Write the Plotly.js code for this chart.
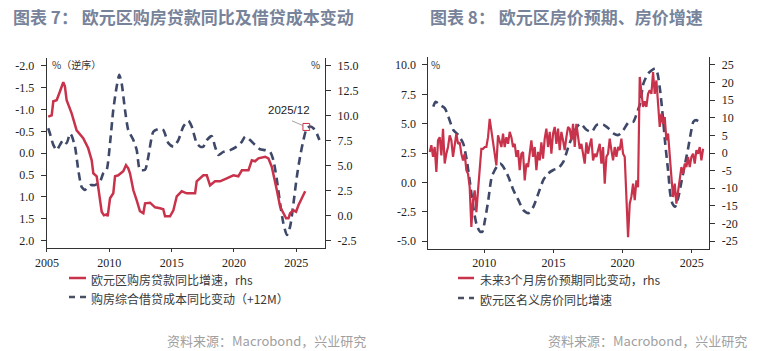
<!DOCTYPE html>
<html><head><meta charset="utf-8">
<script src="https://cdn.plot.ly/plotly-3.0.1.min.js"></script>
<style>html,body{margin:0;padding:0;background:#fff;} #chart{width:770px;height:351px;}</style>
</head><body><div id="chart"></div>
<script>
// ---------- Chart 7 data ----------
const mortgageYears = [2005.10,2005.38,2005.51,2005.78,2005.99,2006.31,2006.44,2006.58,2006.98,2007.38,
2007.91,2008.31,2008.59,2008.72,2008.99,2009.20,2009.39,2009.57,2009.79,2009.87,
2010.06,2010.32,2010.46,2010.72,2011.12,2011.34,2011.52,2011.66,2011.93,2012.20,
2012.46,2012.73,2012.87,2013.27,2013.67,2014.07,2014.33,2014.47,2014.87,2015.14,
2015.41,2015.81,2016.21,2016.48,2016.88,2017.01,2017.28,2017.54,2017.82,2018.08,
2018.48,2018.88,2019.42,2019.95,2020.35,2020.63,2021.16,2021.43,2021.69,2021.96,
2022.50,2022.76,2023.03,2023.30,2023.44,2023.70,2023.96,2024.18,2024.37,2024.50,
2024.77,2024.98,2025.17,2025.44,2025.71];
const mortgageGrowth = [9.86,10.0,11.4,11.5,12.2,13.3,12.9,11.5,10.2,8.5,
7.7,6.7,5.5,4.2,3.9,1.9,0.36,0.0,0.1,-0.1,
1.7,2.2,3.9,4.0,4.4,5.0,4.7,4.2,2.5,1.5,
0.4,0.2,1.2,1.26,0.8,0.7,0.6,-0.1,-0.1,0.5,
1.9,2.4,2.2,2.2,2.2,3.4,3.7,4.0,4.0,3.0,
3.4,3.4,3.7,4.0,3.9,4.5,4.5,5.5,5.4,5.7,
5.86,5.7,4.86,3.5,2.5,0.86,0.2,-0.3,-0.3,0.2,
0.5,0.36,1.0,1.7,2.4];
const costYears = [2005.10,2005.24,2005.51,2005.78,2006.04,2006.31,2006.58,2006.85,2006.98,2007.25,
2007.51,2007.78,2008.05,2008.45,2008.85,2009.25,2009.52,2009.79,2010.06,2010.32,
2010.59,2010.80,2010.99,2011.26,2011.52,2011.93,2012.20,2012.46,2012.87,2013.13,
2013.53,2013.93,2014.33,2014.74,2015.14,2015.54,2015.94,2016.34,2016.61,2017.01,
2017.28,2017.54,2017.82,2018.22,2018.48,2018.75,2019.15,2019.69,2020.22,2020.63,
2020.89,2021.29,2021.69,2022.09,2022.50,2022.90,2023.16,2023.44,2023.70,2023.96,
2024.24,2024.50,2024.77,2025.04,2025.30,2025.57,2025.84,2026.11,2026.37,2026.64,
2026.85];
const costChange = [-0.57,-0.45,-0.19,-0.07,-0.19,-0.30,-0.23,-0.45,-0.40,-0.15,
0.38,0.77,0.84,0.73,0.73,0.65,0.46,0.38,-0.23,-0.99,
-1.52,-1.79,-1.60,-0.99,-0.53,-0.30,-0.07,0.38,0.38,0.08,
-0.49,-0.55,-0.53,-0.23,-0.15,-0.30,-0.61,-0.74,-0.61,-0.23,
-0.15,-0.15,-0.30,-0.39,-0.15,0.04,-0.03,-0.07,-0.15,-0.26,
-0.38,-0.30,-0.19,-0.09,-0.07,-0.03,0.16,0.61,1.15,1.60,
1.87,1.68,1.15,0.54,0.08,-0.30,-0.57,-0.61,-0.57,-0.45,
-0.30];
const x1Ticks = [2005,2010,2015,2020,2025];
const x1TickText = ['2005','2010','2015','2020','2025'];
const y1Ticks = [-2,-1.5,-1,-0.5,0,0.5,1,1.5,2];
const y1TickText = ['-2.0','-1.5','-1.0','-0.5','0.0','0.5','1.0','1.5','2.0'];
const y2Ticks = [-2.5,0,2.5,5,7.5,10,12.5,15];
const y2TickText = ['-2.5','0.0','2.5','5.0','7.5','10.0','12.5','15.0'];
const markYear = 2025.80, markValue = -0.60, markLabel = '2025/12';

// ---------- Chart 8 data ----------
const expectStart = 2006.05, expectEnd = 2025.82;
const priceExpect = [0.3,2.2,-1.1,1.7,-5.4,3.6,4.5,-0.7,6.9,-3.0,-0.2,1.7,5.0,3.6,-1.1,1.7,5.5,2.6,3.0,-0.2,-2.1,-0.2,-4.9,-5.9,-9.7,-21.0,-13.4,-10.6,-16.8,-10.6,-4.0,1.2,1.2,1.7,1.7,4.5,9.7,6.4,1.7,-1.1,-3.5,5.0,3.6,
1.7,5.5,1.7,4.5,2.6,6.0,4.5,1.7,2.6,-1.1,0.8,-4.9,-0.2,0.3,-7.8,-3.0,-4.0,-0.2,3.6,-1.1,1.7,-4.9,0.3,-2.1,3.0,-1.6,4.1,6.9,1.7,6.0,-0.2,5.5,7.4,2.6,6.9,0.8,6.0,3.6,0.8,4.5,7.4,
6.9,3.6,8.3,1.7,8.3,4.5,1.2,2.6,-0.2,-3.0,3.0,-0.2,2.2,4.1,-2.1,-0.2,-1.1,0.8,2.6,-3.0,1.7,-8.7,-1.1,-0.2,4.1,0.8,-2.1,1.7,-1.1,1.7,0.8,4.1,-0.2,-1.1,-13.4,-23.9,-14.4,-12.4,-8.7,-13.4,-7.8,-9.7,
21.6,17.8,13.1,14.7,13.1,16.8,17.8,16.8,23.0,16.8,20.6,14.0,7.4,11.2,8.3,10.2,3.6,5.5,-2.1,-6.8,-12.5,-8.7,-14.4,-10.6,-7.8,-4.0,-5.9,-3.0,-4.0,-1.1,-4.0,-1.1,-0.2,-3.0,0.8,-0.2,1.7,-2.1,1.2];
const hpYears = [2006.31,2006.48,2006.79,2007.15,2007.40,2007.76,2008.12,2008.48,2008.73,2008.97,
2009.20,2009.45,2009.69,2009.86,2010.05,2010.29,2010.54,2010.90,2011.14,2011.37,
2011.74,2012.10,2012.46,2012.82,2013.18,2013.55,2013.91,2014.27,2014.63,2014.99,
2015.35,2015.72,2016.08,2016.56,2016.92,2017.41,2017.77,2018.13,2018.61,2018.97,
2019.33,2019.70,2020.06,2020.42,2020.78,2021.03,2021.27,2021.51,2021.87,2022.35,
2022.52,2022.71,2022.91,2023.08,2023.31,2023.44,2023.60,2023.80,2024.04,2024.28,
2024.52,2024.76,2024.93,2025.12,2025.32,2025.48];
const hpGrowth = [6.45,6.87,6.6,6.3,5.6,4.46,4.03,3.3,1.9,-0.08,
-2.08,-3.64,-4.2,-4.2,-3.2,-1.5,0.48,1.33,1.6,1.33,
0.48,-0.66,-1.5,-2.36,-2.64,-2.08,-0.94,0.2,0.77,1.05,
1.2,1.76,3.04,4.46,5.0,4.46,4.3,4.9,4.9,4.6,
4.18,4.03,4.46,5.1,5.17,5.9,6.73,8.44,9.3,9.7,
9.3,7.87,5.6,3.33,0.77,-0.94,-1.8,-2.08,-1.23,0.2,
1.6,3.04,4.18,5.17,5.3,5.2];
const x2Ticks = [2010,2015,2020,2025];
const x2TickText = ['2010','2015','2020','2025'];
const y3Ticks = [-5,-2.5,0,2.5,5,7.5,10];
const y3TickText = ['-5.0','-2.5','0.0','2.5','5.0','7.5','10.0'];
const y4Ticks = [-25,-20,-15,-10,-5,0,5,10,15,20,25];
const y4TickText = ['-25','-20','-15','-10','-5','0','5','10','15','20','25'];

// ---------- text ----------
const title1 = '图表 7： 欧元区购房贷款同比及借贷成本变动';
const title2 = '图表 8： 欧元区房价预期、房价增速';
const legend1 = ['欧元区购房贷款同比增速，rhs','购房综合借贷成本同比变动（+12M）'];
const legend2 = ['未来3个月房价预期同比变动，rhs','欧元区名义房价同比增速'];
const sourceText = '资料来源：Macrobond，兴业研究';

// ---------- build ----------
const W = 770, H = 351;
const px = x => x / W;
const py = y => 1 - y / H;
const RED = '#c8334b', NAVY = '#3e4868';
const expectYears = priceExpect.map((_, i) => expectStart + i * (expectEnd - expectStart) / (priceExpect.length - 1));

const traces = [
  {x: costYears, y: costChange, xaxis:'x', yaxis:'y', mode:'lines', line:{color:NAVY, width:2.6, dash:'8px,5px', shape:'spline', smoothing:0.6}, hoverinfo:'skip'},
  {x: mortgageYears, y: mortgageGrowth, xaxis:'x', yaxis:'y2', mode:'lines', line:{color:RED, width:2.5}, hoverinfo:'skip'},
  {x: hpYears, y: hpGrowth, xaxis:'x2', yaxis:'y3', mode:'lines', line:{color:NAVY, width:2.6, dash:'8px,5px', shape:'spline', smoothing:0.6}, hoverinfo:'skip'},
  {x: expectYears, y: priceExpect, xaxis:'x2', yaxis:'y4', mode:'lines', line:{color:RED, width:2.2}, hoverinfo:'skip'}
];

const base = {showgrid:false, zeroline:false, showline:true, linecolor:'#333', linewidth:1,
  ticks:'outside', ticklen:5, tickwidth:1, tickcolor:'#333',
  tickfont:{family:'Liberation Serif, serif', size:12, color:'#222'}, tickmode:'array', fixedrange:true};

const layout = {
  width: W, height: H, margin:{l:0,r:0,t:0,b:0}, paper_bgcolor:'#fff', plot_bgcolor:'rgba(0,0,0,0)',
  showlegend:false,
  xaxis: Object.assign({}, base, {domain:[px(46.7), px(325)], range:[2004.98, 2027.3], tickvals:x1Ticks, ticktext:x1TickText, anchor:'y', ticklen:3}),
  yaxis: Object.assign({}, base, {domain:[py(248.3), py(58.3)], range:[2.174, -2.169], tickvals:y1Ticks, ticktext:y1TickText, anchor:'x', ticklabelstandoff:4}),
  yaxis2: Object.assign({}, base, {overlaying:'y', side:'right', anchor:'x', range:[-3.3, 15.7], tickvals:y2Ticks, ticktext:y2TickText, ticklabelstandoff:4}),
  xaxis2: Object.assign({}, base, {domain:[px(428.3), px(709.3)], range:[2005.95, 2026.27], tickvals:x2Ticks, ticktext:x2TickText, anchor:'y3', ticklen:3}),
  yaxis3: Object.assign({}, base, {domain:[py(249), py(57)], range:[-5.68, 10.68], tickvals:y3Ticks, ticktext:y3TickText, anchor:'x2', ticklabelstandoff:4}),
  yaxis4: Object.assign({}, base, {overlaying:'y3', side:'right', anchor:'x2', range:[-27.27, 27.27], tickvals:y4Ticks, ticktext:y4TickText, ticklabelstandoff:4}),
  shapes: [
    // highlight box for latest point
    {type:'rect', xref:'x', yref:'y', x0:markYear-0.27, x1:markYear+0.27, y0:markValue-0.08, y1:markValue+0.08, line:{color:'#d0303f', width:1}, fillcolor:'rgba(0,0,0,0)'},
    {type:'line', xref:'x', yref:'y', x0:2024.65, y0:-0.74, x1:markYear-0.27, y1:markValue-0.03, line:{color:'#8a8a8a', width:0.8}},
    // legend samples
    {type:'line', xref:'paper', yref:'paper', x0:px(69), x1:px(86), y0:py(278), y1:py(278), line:{color:RED, width:2.5}},
    {type:'line', xref:'paper', yref:'paper', x0:px(69), x1:px(86), y0:py(297), y1:py(297), line:{color:'#4a4f62', width:2.5, dash:'6px,5px'}},
    {type:'line', xref:'paper', yref:'paper', x0:px(458), x1:px(474), y0:py(278), y1:py(278), line:{color:RED, width:2.5}},
    {type:'line', xref:'paper', yref:'paper', x0:px(458), x1:px(474), y0:py(298), y1:py(298), line:{color:'#4a4f62', width:2.5, dash:'6px,5px'}}
  ],
  annotations: []
};

const cjk = 'Noto Sans CJK SC, sans-serif';
function note(text, x, y, opts) {
  return Object.assign({text:text, xref:'paper', yref:'paper', x:px(x), y:py(y), xanchor:'left', yanchor:'middle', showarrow:false,
    font:{family:cjk, size:12, color:'#3a3a3a'}}, opts || {});
}
layout.annotations.push(
  note(title1, 11, 16, {font:{family:cjk, size:17, color:'#77839a', weight:'bold'}}),
  note(title2, 428, 16, {font:{family:cjk, size:17, color:'#77839a', weight:'bold'}}),
  note('%（逆序）', 50, 65, {font:{family:cjk, size:10, color:'#333'}}),
  note('%', 315, 65, {xanchor:'center', font:{family:cjk, size:10, color:'#333'}}),
  note('%', 435, 65, {xanchor:'center', font:{family:cjk, size:10, color:'#333'}}),
  note(legend1[0], 89, 279),
  note(legend1[1], 89, 298),
  note(legend2[0], 478, 279),
  note(legend2[1], 478, 299),
  note(sourceText, 368, 340, {xanchor:'right', font:{family:cjk, size:13, color:'#a0a0a0'}}),
  note(sourceText, 749, 340, {xanchor:'right', font:{family:cjk, size:13, color:'#a0a0a0'}}),
  {text: markLabel, xref:'x', yref:'y', x:2024.38, y:-0.99, xanchor:'center', yanchor:'middle', showarrow:false,
   font:{family:'Liberation Sans, sans-serif', size:11.5, color:'#222'}}
);

Plotly.newPlot('chart', traces, layout, {staticPlot:true, displayModeBar:false});
</script>
</body></html>
